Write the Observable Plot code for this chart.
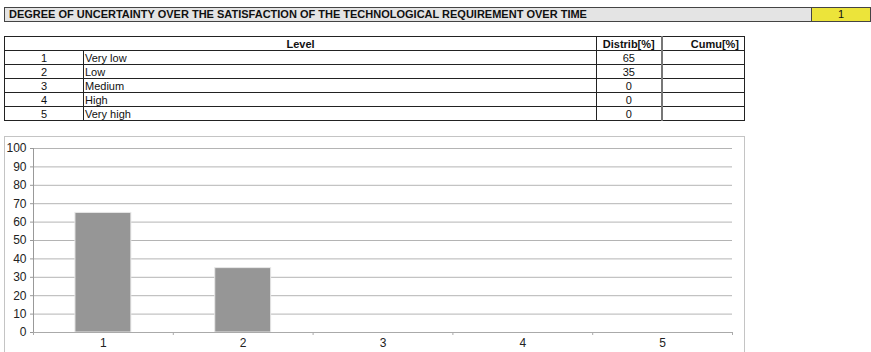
<!DOCTYPE html>
<html>
<head>
<meta charset="utf-8">
<script src="https://cdn.jsdelivr.net/npm/d3@7"></script>
<script src="https://cdn.jsdelivr.net/npm/@observablehq/plot@0.6"></script>
<style>
  html, body { margin: 0; padding: 0; background: #fff; overflow: hidden; }
  body { width: 871px; height: 352px; position: relative; font-family: "Liberation Sans", Arial, sans-serif; color: #111; }
  #hdr { position: absolute; left: 4px; top: 7px; width: 803px; height: 13px; background: #e4e4e4; border: 1px solid #444; border-right: none;
         font-weight: bold; font-size: 11px; line-height: 13px; padding-left: 4px; box-sizing: content-box; }
  #hdrnum { position: absolute; left: 811px; top: 7px; width: 58px; height: 13px; background: #ece43a; border: 1px solid #444;
         font-size: 11px; line-height: 13px; text-align: center; }
  #tbl { position: absolute; left: 4px; top: 36px; width: 740px; table-layout: fixed; border-collapse: collapse; font-size: 11px; }
  #tbl td, #tbl th { border: 1px solid #222; height: 13px; padding: 0 2px; line-height: 12px; overflow: hidden; white-space: nowrap; }
  #tbl th { font-weight: bold; }
  #chartbox { position: absolute; left: 4px; top: 136px; width: 739px; height: 240px; border: 1px solid #c4c4c4; background: #fff; }
  #chartbox svg { display: block; }
</style>
</head>
<body>
<div id="hdr"></div>
<div id="hdrnum"></div>
<table id="tbl"><colgroup><col style="width:79px"><col style="width:513px"><col style="width:65px"><col style="width:83px"></colgroup></table>
<div id="chartbox"></div>
<script>
const title = "DEGREE OF UNCERTAINTY OVER THE SATISFACTION OF THE TECHNOLOGICAL REQUIREMENT OVER TIME";
const indicatorNumber = "1";
const tableHeaders = ["Level", "Distrib[%]", "Cumu[%]"];
const levels = [1, 2, 3, 4, 5];
const levelNames = ["Very low", "Low", "Medium", "High", "Very high"];
const distrib = [65, 35, 0, 0, 0];
const yTicks = [0, 10, 20, 30, 40, 50, 60, 70, 80, 90, 100];

document.getElementById("hdr").textContent = title;
document.getElementById("hdrnum").textContent = indicatorNumber;

// table
const tbl = document.getElementById("tbl");
const hr = document.createElement("tr");
const th0 = document.createElement("th"); th0.colSpan = 2; th0.textContent = tableHeaders[0];
const th1 = document.createElement("th"); th1.textContent = tableHeaders[1]; th1.style.textAlign = "center";
const th2 = document.createElement("th"); th2.textContent = tableHeaders[2]; th2.style.textAlign = "right"; th2.style.paddingRight = "5px";
th1.style.borderRight = "2px solid #777";
hr.append(th0, th1, th2);
tbl.append(hr);
levels.forEach((lv, i) => {
  const tr = document.createElement("tr");
  const a = document.createElement("td"); a.textContent = lv; a.style.textAlign = "center";
  const b = document.createElement("td"); b.textContent = levelNames[i]; b.style.paddingLeft = "1px";
  const c = document.createElement("td"); c.textContent = distrib[i]; c.style.textAlign = "center"; c.style.borderRight = "2px solid #777";
  const d = document.createElement("td"); d.textContent = "";
  tr.append(a, b, c, d);
  tbl.append(tr);
});

// chart
const data = levels.map((lv, i) => ({level: lv, value: distrib[i]}));
const boundaries = [0.5, ...levels.map(l => l + 0.5)];
const chart = Plot.plot({
  width: 739,
  height: 215,
  marginLeft: 28,
  marginRight: 12,
  marginTop: 11,
  marginBottom: 20,
  x: {domain: [0.5, 5.5]},
  y: {domain: [0, 100]},
  style: {fontFamily: "'Liberation Sans', Arial, sans-serif", fontSize: "12px", background: "white", color: "#222", overflow: "visible"},
  marks: [
    Plot.gridY(yTicks, {stroke: "#b4b4b4", strokeOpacity: 1}),
    Plot.axisY({ticks: yTicks, tickSize: 3, tickPadding: 4, stroke: "#999", fill: "#222", label: null}),
    Plot.ruleX([0.5], {stroke: "#999"}),
    Plot.rectY(data, {x1: d => d.level - 0.2, x2: d => d.level + 0.2, y: "value", fill: "#969696", stroke: "#e8e8e8", strokeWidth: 1}),
    Plot.ruleY([0], {stroke: "#aaa"}),
    Plot.axisX({ticks: boundaries, tickFormat: () => "", tickSize: 3, stroke: "#aaa", label: null}),
    Plot.axisX({ticks: levels, tickFormat: d => String(d), tickSize: 0, tickPadding: 6, fill: "#222", label: null})
  ]
});
document.getElementById("chartbox").append(chart);
</script>
</body>
</html>
